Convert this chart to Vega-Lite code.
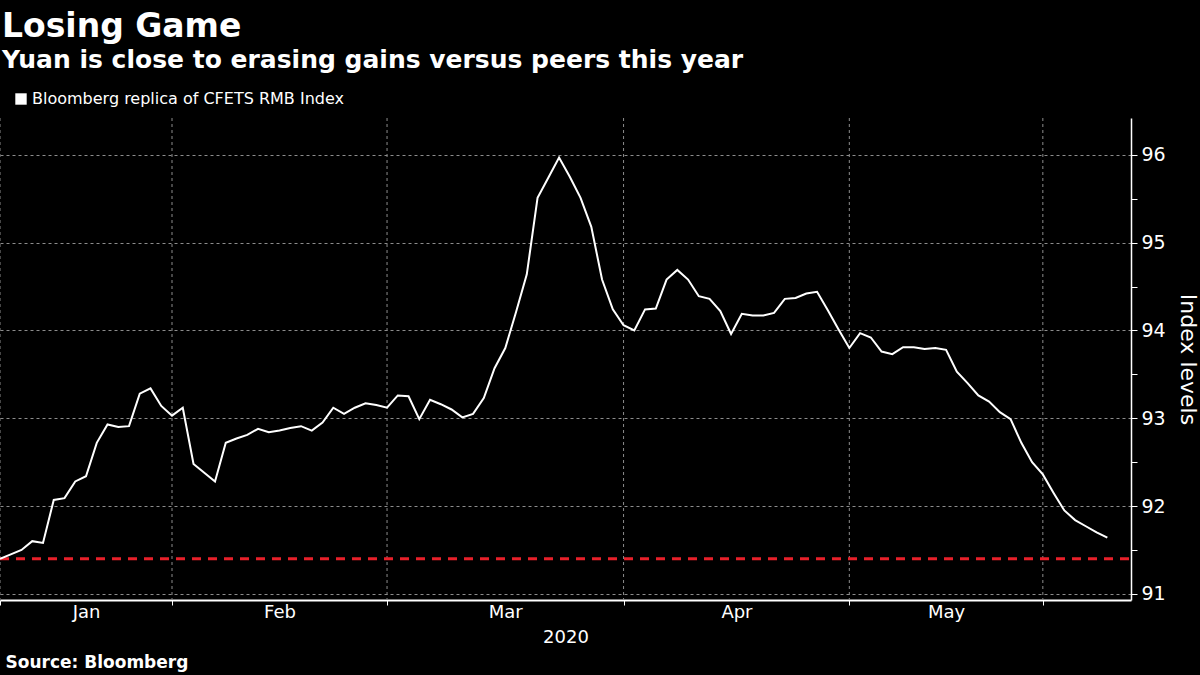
{
  "$schema": "https://vega.github.io/schema/vega-lite/v6.json",
  "width": 1131,
  "height": 482,
  "autosize": {"type": "none"},
  "padding": {"left": 0, "top": 118, "right": 69, "bottom": 75},
  "background": "#000000",
  "config": {"view": {"stroke": null}, "font": "DejaVu Sans"},
  "title": {
    "text": "Losing Game",
    "subtitle": "Yuan is close to erasing gains versus peers this year",
    "anchor": "start",
    "frame": "group",
    "color": "#ffffff",
    "subtitleColor": "#ffffff",
    "font": "DejaVu Sans",
    "subtitleFont": "DejaVu Sans",
    "fontSize": 33,
    "subtitleFontSize": 25,
    "fontWeight": "bold",
    "subtitleFontWeight": "bold",
    "offset": 18,
    "dx": 2,
    "subtitlePadding": 4
  },
  "datasets": {
    "months": [
      {"start": 0, "month": "Jan"},
      {"start": 16, "month": "Feb"},
      {"start": 36, "month": "Mar"},
      {"start": 58, "month": "Apr"},
      {"start": 79, "month": "May"},
      {"start": 97, "month": "Jun"}
    ],
    "index": [
      {"i": 0, "v": 91.40}, {"i": 1, "v": 91.45}, {"i": 2, "v": 91.50}, {"i": 3, "v": 91.60},
      {"i": 4, "v": 91.58}, {"i": 5, "v": 92.07}, {"i": 6, "v": 92.09}, {"i": 7, "v": 92.28},
      {"i": 8, "v": 92.34}, {"i": 9, "v": 92.72}, {"i": 10, "v": 92.93}, {"i": 11, "v": 92.90},
      {"i": 12, "v": 92.91}, {"i": 13, "v": 93.28}, {"i": 14, "v": 93.34}, {"i": 15, "v": 93.14},
      {"i": 16, "v": 93.03}, {"i": 17, "v": 93.12}, {"i": 18, "v": 92.48}, {"i": 19, "v": 92.38},
      {"i": 20, "v": 92.28}, {"i": 21, "v": 92.72}, {"i": 22, "v": 92.77}, {"i": 23, "v": 92.81},
      {"i": 24, "v": 92.88}, {"i": 25, "v": 92.84}, {"i": 26, "v": 92.86}, {"i": 27, "v": 92.89},
      {"i": 28, "v": 92.91}, {"i": 29, "v": 92.86}, {"i": 30, "v": 92.95}, {"i": 31, "v": 93.12},
      {"i": 32, "v": 93.05}, {"i": 33, "v": 93.12}, {"i": 34, "v": 93.17}, {"i": 35, "v": 93.15},
      {"i": 36, "v": 93.12}, {"i": 37, "v": 93.26}, {"i": 38, "v": 93.25}, {"i": 39, "v": 92.99},
      {"i": 40, "v": 93.21}, {"i": 41, "v": 93.16}, {"i": 42, "v": 93.10}, {"i": 43, "v": 93.01},
      {"i": 44, "v": 93.05}, {"i": 45, "v": 93.23}, {"i": 46, "v": 93.57}, {"i": 47, "v": 93.80},
      {"i": 48, "v": 94.21}, {"i": 49, "v": 94.64}, {"i": 50, "v": 95.51}, {"i": 51, "v": 95.74},
      {"i": 52, "v": 95.97}, {"i": 53, "v": 95.75}, {"i": 54, "v": 95.51}, {"i": 55, "v": 95.18},
      {"i": 56, "v": 94.58}, {"i": 57, "v": 94.24}, {"i": 58, "v": 94.06}, {"i": 59, "v": 94.00},
      {"i": 60, "v": 94.24}, {"i": 61, "v": 94.25}, {"i": 62, "v": 94.58}, {"i": 63, "v": 94.69},
      {"i": 64, "v": 94.58}, {"i": 65, "v": 94.39}, {"i": 66, "v": 94.36}, {"i": 67, "v": 94.22},
      {"i": 68, "v": 93.96}, {"i": 69, "v": 94.19}, {"i": 70, "v": 94.17}, {"i": 71, "v": 94.17},
      {"i": 72, "v": 94.20}, {"i": 73, "v": 94.36}, {"i": 74, "v": 94.37}, {"i": 75, "v": 94.42},
      {"i": 76, "v": 94.44}, {"i": 77, "v": 94.23}, {"i": 78, "v": 94.01}, {"i": 79, "v": 93.80},
      {"i": 80, "v": 93.97}, {"i": 81, "v": 93.92}, {"i": 82, "v": 93.76}, {"i": 83, "v": 93.73},
      {"i": 84, "v": 93.81}, {"i": 85, "v": 93.81}, {"i": 86, "v": 93.79}, {"i": 87, "v": 93.80},
      {"i": 88, "v": 93.78}, {"i": 89, "v": 93.53}, {"i": 90, "v": 93.40}, {"i": 91, "v": 93.26},
      {"i": 92, "v": 93.19}, {"i": 93, "v": 93.07}, {"i": 94, "v": 92.99}, {"i": 95, "v": 92.72},
      {"i": 96, "v": 92.50}, {"i": 97, "v": 92.36}, {"i": 98, "v": 92.15}, {"i": 99, "v": 91.95},
      {"i": 100, "v": 91.84}, {"i": 101, "v": 91.77}, {"i": 102, "v": 91.70}, {"i": 103, "v": 91.64}
    ],
    "reference": [
      {"ref": 91.4, "x0": 0, "x1": 105.2}
    ]
  },
  "resolve": {"axis": {"x": "independent", "y": "independent"}},
  "layer": [
    {
      "data": {"name": "months"},
      "mark": {"type": "rule", "color": "#8c8c8c", "strokeDash": [3, 3], "strokeWidth": 1},
      "encoding": {
        "x": {
          "field": "start",
          "type": "quantitative",
          "scale": {"domain": [0, 105.2], "nice": false, "zero": false},
          "axis": {
            "orient": "bottom",
            "values": [0, 16, 36, 58, 79, 97],
            "labels": false,
            "ticks": true,
            "tickColor": "#ffffff",
            "tickSize": 5,
            "tickWidth": 1,
            "domain": true,
            "domainColor": "#ffffff",
            "domainWidth": 2,
            "grid": false,
            "title": "2020",
            "titleColor": "#ffffff",
            "titleFont": "DejaVu Sans",
            "titleFontSize": 18,
            "titleFontWeight": "normal",
            "titlePadding": 23
          }
        }
      }
    },
    {
      "data": {"name": "reference"},
      "mark": {"type": "rule", "color": "#e8202a", "strokeDash": [9, 7], "strokeWidth": 3},
      "encoding": {
        "y": {
          "field": "ref",
          "type": "quantitative",
          "scale": {"domain": [90.93, 96.42], "nice": false, "zero": false},
          "axis": null
        },
        "x": {
          "field": "x0",
          "type": "quantitative",
          "axis": {
            "orient": "bottom",
            "labels": false,
            "ticks": false,
            "domain": false,
            "grid": false,
            "title": "Source: Bloomberg",
            "titleColor": "#ffffff",
            "titleFont": "DejaVu Sans",
            "titleFontSize": 17,
            "titleFontWeight": "bold",
            "titleAnchor": "start",
            "titleAlign": "left",
            "titleX": 5,
            "titlePadding": 54
          }
        },
        "x2": {"field": "x1"}
      }
    },
    {
      "data": {"name": "index"},
      "mark": {"type": "line", "strokeWidth": 2},
      "encoding": {
        "x": {
          "field": "i",
          "type": "quantitative",
          "axis": {
            "orient": "bottom",
            "values": [8, 26, 47, 68.5, 88],
            "labelExpr": "datum.value == 8 ? 'Jan' : datum.value == 26 ? 'Feb' : datum.value == 47 ? 'Mar' : datum.value == 68.5 ? 'Apr' : 'May'",
            "labelColor": "#ffffff",
            "labelFont": "DejaVu Sans",
            "labelFontSize": 18,
            "labelPadding": 3,
            "ticks": false,
            "domain": false,
            "grid": false,
            "title": null
          }
        },
        "y": {
          "field": "v",
          "type": "quantitative",
          "scale": {"domain": [90.93, 96.42], "nice": false, "zero": false},
          "axis": {
            "orient": "right",
            "values": [91, 91.5, 92, 92.5, 93, 93.5, 94, 94.5, 95, 95.5, 96],
            "labelExpr": "datum.value % 1 == 0 ? format(datum.value, '.0f') : ''",
            "labelColor": "#ffffff",
            "labelFont": "DejaVu Sans",
            "labelFontSize": 19,
            "labelPadding": 4,
            "tickColor": "#ffffff",
            "tickSize": 6,
            "domain": true,
            "domainColor": "#ffffff",
            "domainWidth": 1.5,
            "grid": true,
            "gridColor": "#8c8c8c",
            "gridDash": [3, 3],
            "gridWidth": 1,
            "gridOpacity": {"condition": {"test": "datum.value % 1 != 0", "value": 0}, "value": 1},
            "title": "Index levels",
            "titleColor": "#ffffff",
            "titleFont": "DejaVu Sans",
            "titleFontSize": 22,
            "titleFontWeight": "normal",
            "titleAngle": 90,
            "titlePadding": 10
          }
        },
        "color": {
          "datum": "Bloomberg replica of CFETS RMB Index",
          "type": "nominal",
          "scale": {"range": ["#ffffff"]},
          "legend": {
            "orient": "none",
            "legendX": 13,
            "legendY": -27,
            "title": null,
            "padding": 0,
            "symbolType": "square",
            "symbolSize": 130,
            "symbolFillColor": "#ffffff",
            "symbolStrokeColor": "#ffffff",
            "symbolStrokeWidth": 0,
            "labelColor": "#ffffff",
            "labelFont": "DejaVu Sans",
            "labelFontSize": 16,
            "labelLimit": 0,
            "labelOffset": 3
          }
        }
      }
    }
  ]
}
